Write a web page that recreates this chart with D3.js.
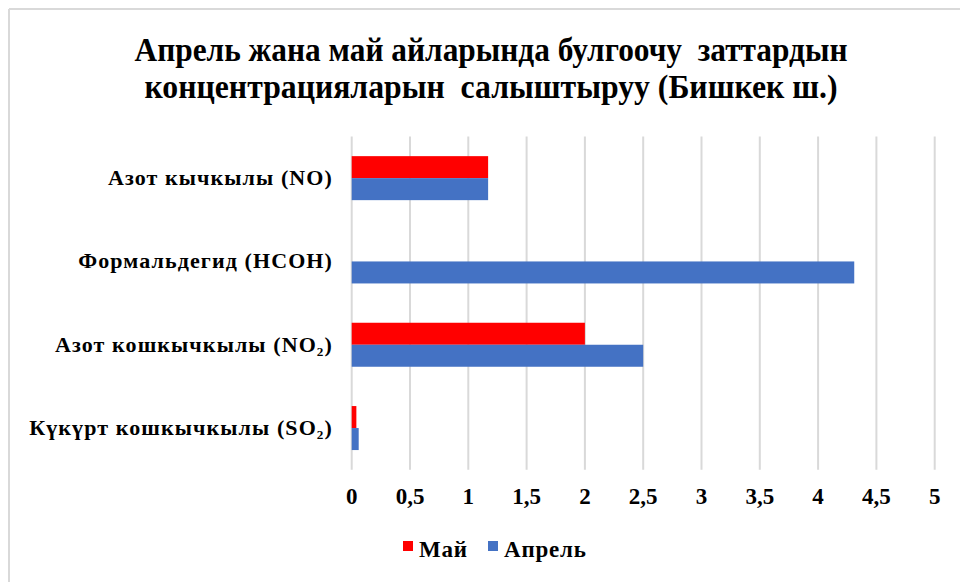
<!DOCTYPE html>
<html>
<head>
<meta charset="utf-8">
<script src="https://cdn.jsdelivr.net/npm/d3@7"></script>
<style>
  body { margin: 0; background: #fff; }
  svg text { font-family: "Liberation Serif", "Times New Roman", serif; font-weight: bold; fill: #000; }
</style>
</head>
<body>
<div id="chart"></div>
<script>
var categories = ["Азот кычкылы (NO)", "Формальдегид (HCOH)", "Азот кошкычкылы (NO₂)", "Күкүрт кошкычкылы (SO₂)"];
var seriesNames = ["Май", "Апрель"];
var mayValues = [1.17, 0, 2.0, 0.04];
var aprilValues = [1.17, 4.31, 2.5, 0.06];
var xTicks = [0, 0.5, 1, 1.5, 2, 2.5, 3, 3.5, 4, 4.5, 5];
var titleLines = ["Апрель жана май айларында булгоочу  заттардын", "концентрацияларын  салыштыруу (Бишкек ш.)"];
var colors = {"Май": "#ff0000", "Апрель": "#4472c4"};

var width = 960, height = 582;

var svg = d3.select("#chart").append("svg")
    .attr("width", width)
    .attr("height", height);

// chart frame (only top & left edges visible in the crop)
svg.append("line").attr("x1", 9).attr("y1", 9).attr("x2", width).attr("y2", 9)
    .style("stroke", "#d9d9d9").style("stroke-width", 2);
svg.append("line").attr("x1", 9).attr("y1", 9).attr("x2", 9).attr("y2", height)
    .style("stroke", "#d9d9d9").style("stroke-width", 2);

var x = d3.scaleLinear().domain([0, 5]).range([351.7, 934.7]);
var y = d3.scaleBand().domain(categories).range([136.5, 469.7]).paddingInner(0).paddingOuter(0);
var inner = d3.scaleBand().domain(seriesNames).range([0, 44]);
var barOffset = (y.bandwidth() - 44) / 2;

// gridlines
svg.append("g").selectAll("line")
    .data(xTicks)
    .enter()
    .append("line")
    .attr("x1", function(d){ return x(d); })
    .attr("x2", function(d){ return x(d); })
    .attr("y1", 136.5)
    .attr("y2", 469.7)
    .style("stroke", "#d9d9d9")
    .style("stroke-width", 2);

// bars
var rows = categories.map(function(c, i){
    return {cat: c, values: [{name: "Май", v: mayValues[i]}, {name: "Апрель", v: aprilValues[i]}]};
});

var groups = svg.append("g").selectAll("g")
    .data(rows)
    .enter()
    .append("g")
    .attr("transform", function(d){ return "translate(0," + (y(d.cat) + barOffset) + ")"; });

groups.selectAll("rect")
    .data(function(d){ return d.values.filter(function(s){ return s.v > 0; }); })
    .enter()
    .append("rect")
    .attr("x", x(0))
    .attr("y", function(d){ return inner(d.name); })
    .attr("width", function(d){ return x(d.v) - x(0); })
    .attr("height", inner.bandwidth())
    .style("fill", function(d){ return colors[d.name]; });

// category labels
svg.append("g").selectAll("text")
    .data(categories)
    .enter()
    .append("text")
    .attr("x", 333)
    .attr("y", function(d){ return y(d) + y.bandwidth() / 2 + 7; })
    .attr("text-anchor", "end")
    .style("font-size", "22px")
    .style("letter-spacing", "1.1px")
    .text(function(d){ return d; });

// x tick labels
svg.append("g").selectAll("text")
    .data(xTicks)
    .enter()
    .append("text")
    .attr("x", function(d){ return x(d); })
    .attr("y", 504)
    .attr("text-anchor", "middle")
    .style("font-size", "23px")
    .text(function(d){ return String(d).replace(".", ","); });

// title
svg.append("g").selectAll("text")
    .data(titleLines)
    .enter()
    .append("text")
    .attr("x", 491)
    .attr("y", function(d, i){ return 61 + i * 37; })
    .attr("text-anchor", "middle")
    .attr("xml:space", "preserve")
    .attr("textLength", function(d, i){ return i == 0 ? 713 : 693; })
    .attr("lengthAdjust", "spacingAndGlyphs")
    .style("font-size", "33px")
    .text(function(d){ return d; });

// legend
var legendItems = [{name: "Май", x: 403}, {name: "Апрель", x: 488}];
var legend = svg.append("g").selectAll("g")
    .data(legendItems)
    .enter()
    .append("g")
    .attr("transform", function(d){ return "translate(" + d.x + ",541)"; });
legend.append("rect")
    .attr("width", 10).attr("height", 10)
    .style("fill", function(d){ return colors[d.name]; });
legend.append("text")
    .attr("x", 16).attr("y", 16)
    .style("font-size", "23px")
    .style("letter-spacing", "0.8px")
    .text(function(d){ return d.name; });
</script>
</body>
</html>
